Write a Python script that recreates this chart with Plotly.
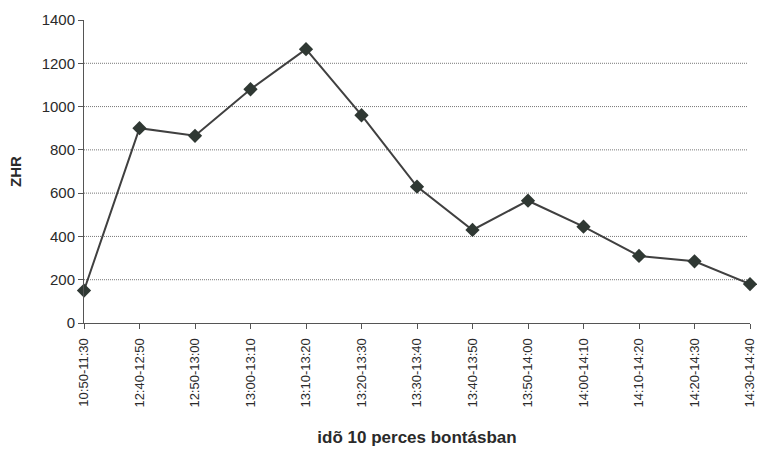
import plotly.graph_objects as go

categories = ["10:50-11:30", "12:40-12:50", "12:50-13:00", "13:00-13:10", "13:10-13:20",
              "13:20-13:30", "13:30-13:40", "13:40-13:50", "13:50-14:00", "14:00-14:10",
              "14:10-14:20", "14:20-14:30", "14:30-14:40"]
zhr = [150, 900, 865, 1080, 1265, 960, 630, 430, 565, 445, 310, 285, 180]
y_ticks = [0, 200, 400, 600, 800, 1000, 1200, 1400]
grid_vals = [200, 400, 600, 800, 1000, 1200]

fig = go.Figure()
fig.add_trace(go.Scatter(
    x=list(range(len(categories))), y=zhr, mode="lines+markers",
    line=dict(color="#404040", width=2),
    marker=dict(symbol="diamond", size=11, color="#2f3833"),
    showlegend=False, cliponaxis=False,
))

for g in grid_vals:
    fig.add_shape(type="line", xref="paper", yref="y", x0=0, x1=0.997, y0=g, y1=g,
                  line=dict(color="#777777", width=1, dash="1px,1px"), layer="below")

fig.update_layout(
    width=757, height=451,
    margin=dict(l=84, r=7, t=20, b=128, autoexpand=False),
    paper_bgcolor="white", plot_bgcolor="white",
    font=dict(family="Liberation Sans, Arial, sans-serif", size=13, color="#2a2a2a"),
    xaxis=dict(
        range=[0, len(categories) - 1],
        tickmode="array", tickvals=list(range(len(categories))), ticktext=categories,
        tickangle=-90, showgrid=False, zeroline=False, automargin=False,
        showline=True, linecolor="#555555", linewidth=1,
        ticks="outside", ticklen=5, tickcolor="#555555",
        ticklabeloverflow="allow", ticklabelstandoff=4,
        tickfont=dict(size=13, color="#2a2a2a"),
        title=dict(text="<b>idõ 10 perces bontásban</b>",
                   font=dict(family="Liberation Sans, Arial, sans-serif", size=17, color="#2a2a2a"),
                   standoff=24),
    ),
    yaxis=dict(
        range=[0, 1400], tickmode="array", tickvals=y_ticks,
        showgrid=False, zeroline=False, automargin=False,
        showline=True, linecolor="#555555", linewidth=1,
        ticks="outside", ticklen=5, tickcolor="#555555",
        tickfont=dict(size=15, color="#2a2a2a"),
        title=dict(text="<b>ZHR</b>", font=dict(size=15, color="#2a2a2a"), standoff=16),
    ),
)

fig.write_html("out.html", config={"displayModeBar": False},
               post_script="document.body.style.margin='0';document.body.style.overflow='hidden';")
